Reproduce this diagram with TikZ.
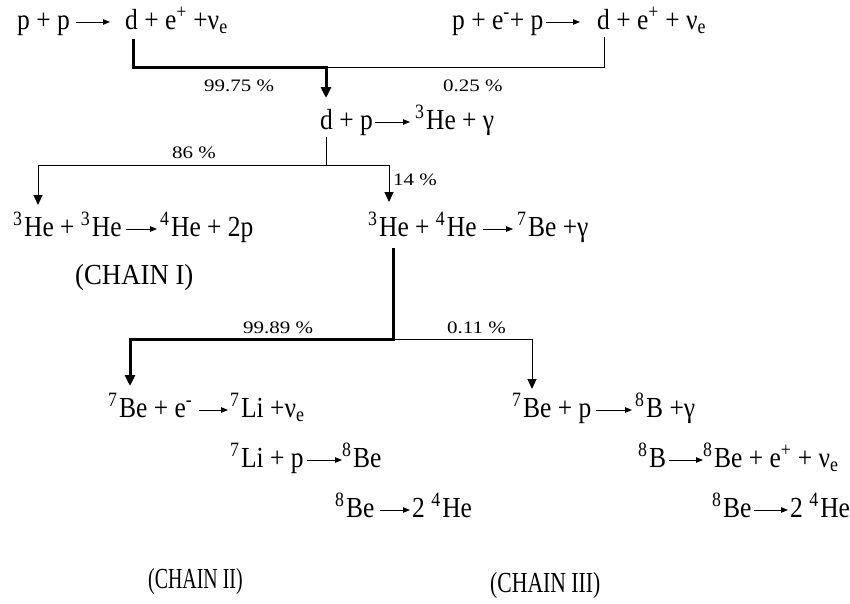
\documentclass[tikz,border=0pt]{standalone}
\usepackage{graphicx}
\usepackage{fontspec}
\setmainfont{Liberation Serif}
\usetikzlibrary{arrows.meta}
\newcommand{\iso}[2]{\textsuperscript{#1}\kern1.5pt #2}
\newcommand{\nue}{ν\textsubscript{e}}
\newcommand{\epos}{e\textsuperscript{+}}
\newcommand{\eneg}{e\textsuperscript{-}}
\newcommand{\rtxt}[2][1]{\scalebox{#1}[1.14]{#2}}
\newcommand{\pctxt}[1]{\scalebox{1.2}[1]{#1}}
\tikzset{
 rx/.style={inner sep=0pt, anchor=base west, font=\fontsize{25.5}{30}\selectfont},
 pct/.style={inner sep=0pt, anchor=base west, font=\fontsize{17.5}{21}\selectfont},
 rxarrow/.style={line width=0.9pt, -{Triangle[length=7pt,width=5.5pt]}},
 thinbr/.style={line width=1pt},
 thinarr/.style={line width=1pt, -{Triangle[length=10pt,width=9pt]}},
 thickarr/.style={line width=3pt, line join=miter, -{Triangle[length=11pt,width=10pt]}},
}
\newcommand{\rxa}[4]{\draw[rxarrow] ([shift={(#3,7pt)}]#1.base east) -- ([shift={(-#4,7pt)}]#2.base west);}
\begin{document}
\begin{tikzpicture}[x=1pt,y=-1pt]
\useasboundingbox (0,0) rectangle (850,603);
% reactions
\node[rx] (r1L) at (17,29) {\rtxt{p + p}};
\node[rx] (r1R) at (125,29) {\rtxt{d + \epos{} +\nue}};
\node[rx] (r2L) at (452,29) {\rtxt{p + \eneg+ p}};
\node[rx] (r2R) at (597,29) {\rtxt{d + \epos{} + \nue}};
\node[rx] (r3L) at (320,129) {\rtxt{d + p}};
\node[rx] (r3R) at (415,129) {\rtxt{\iso{3}{He} + γ}};
\node[rx] (r4L) at (13,236) {\rtxt{\iso{3}{He} + \iso{3}{He}}};
\node[rx] (r4R) at (160,236) {\rtxt{\iso{4}{He} + 2p}};
\node[rx] (r5L) at (368,236) {\rtxt{\iso{3}{He} + \iso{4}{He}}};
\node[rx] (r5R) at (517,236) {\rtxt{\iso{7}{Be} +γ}};
\node[rx] (c1) at (75,284) {\rtxt[1.05]{(CHAIN I)}};
\node[rx] (r6L) at (108,417) {\rtxt{\iso{7}{Be} + \eneg}};
\node[rx] (r6R) at (230,417) {\rtxt{\iso{7}{Li} +\nue}};
\node[rx] (r7L) at (230,467) {\rtxt{\iso{7}{Li} + p}};
\node[rx] (r7R) at (342,467) {\rtxt{\iso{8}{Be}}};
\node[rx] (r8L) at (335,517) {\rtxt{\iso{8}{Be}}};
\node[rx] (r8R) at (412,517) {\rtxt{2 \iso{4}{He}}};
\node[rx] (r9L) at (512,417) {\rtxt{\iso{7}{Be} + p}};
\node[rx] (r9R) at (635,417) {\rtxt{\iso{8}{B} +γ}};
\node[rx] (r10L) at (638,467) {\rtxt{\iso{8}{B}}};
\node[rx] (r10R) at (703,467) {\rtxt{\iso{8}{Be} + \epos{} + \nue}};
\node[rx] (r11L) at (712,517) {\rtxt{\iso{8}{Be}}};
\node[rx] (r11R) at (790,517) {\rtxt{2 \iso{4}{He}}};
\node[rx] (c2) at (148,588) {\rtxt[0.78]{(CHAIN II)}};
\node[rx] (c3) at (490,592) {\rtxt[0.85]{(CHAIN III)}};
% percentages
\node[pct] (p1) at (204,91) {\pctxt{99.75 \%}};
\node[pct] (p2) at (443,91) {\pctxt{0.25 \%}};
\node[pct] (p3) at (172,158) {\pctxt{86 \%}};
\node[pct] (p4) at (393,185) {\pctxt{14 \%}};
\node[pct] (p5) at (243,333) {\pctxt{99.89 \%}};
\node[pct] (p6) at (447,333) {\pctxt{0.11 \%}};
% reaction arrows
\rxa{r1L}{r1R}{6pt}{15pt}
\rxa{r2L}{r2R}{2pt}{17pt}
\rxa{r3L}{r3R}{2pt}{5pt}
\rxa{r4L}{r4R}{4pt}{3pt}
\rxa{r5L}{r5R}{6pt}{4pt}
\rxa{r6L}{r6R}{6pt}{2pt}
\rxa{r7L}{r7R}{3pt}{0pt}
\rxa{r8L}{r8R}{5pt}{2pt}
\rxa{r9L}{r9R}{4pt}{3pt}
\rxa{r10L}{r10R}{3pt}{0pt}
\rxa{r11L}{r11R}{2pt}{2pt}
% branch coordinates
\coordinate (s1) at (133,39);
\coordinate (j1) at (326,67);
\coordinate (t1) at (326,98);
\coordinate (s2) at (604,37);
\coordinate (s3) at (326,137);
\coordinate (j2) at (326,165);
\coordinate (t3) at (38,205);
\coordinate (t4) at (389,202);
\coordinate (s4) at (393,248);
\coordinate (j3) at (393,339);
\coordinate (t5) at (130,386);
\coordinate (t6) at (532,389);
% branches
\draw[thinbr] (s2) |- (j1);
\draw[thickarr] (s1) |- (j1) -- (t1);
\draw[thinarr] (s3) -- (j2) -| (t3);
\draw[thinarr] (j2) -| (t4);
\draw[thinarr] (j3) -| (t6);
\draw[thickarr] (s4) -- (j3) -| (t5);
\end{tikzpicture}
\end{document}
